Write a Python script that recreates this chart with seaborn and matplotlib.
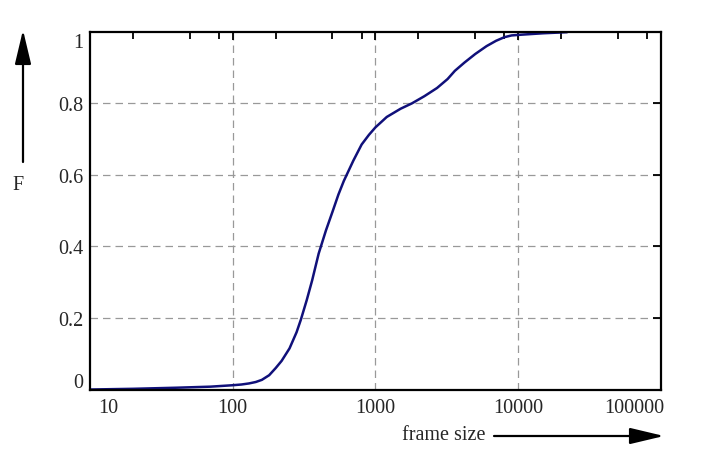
import numpy as np
import pandas as pd
import matplotlib
matplotlib.use("Agg")
import matplotlib.pyplot as plt
import matplotlib.ticker as mticker
from matplotlib.patches import FancyArrowPatch
from matplotlib.transforms import ScaledTranslation
import seaborn as sns

# cdf of frame sizes
frame_size = [10, 20, 40, 70, 100, 115, 130, 145, 160, 180, 200, 220, 250,
              280, 300, 330, 360, 400, 450, 500, 550, 600, 700, 800, 900,
              1000, 1200, 1500, 1800, 2200, 2700, 3200, 3600, 4200, 5000,
              6000, 7000, 8000, 9000, 10500, 15000, 22000]
cdf = [0.0, 0.002, 0.005, 0.008, 0.012, 0.014, 0.017, 0.021, 0.027, 0.040,
       0.060, 0.080, 0.115, 0.160, 0.195, 0.250, 0.305, 0.380, 0.445, 0.497,
       0.545, 0.583, 0.640, 0.685, 0.712, 0.733, 0.762, 0.785, 0.800, 0.820,
       0.843, 0.868, 0.891, 0.914, 0.938, 0.960, 0.975, 0.985, 0.990, 0.992,
       0.996, 0.999]

x_ticks = [10, 100, 1000, 10000, 100000]
x_labels = ["10", "100", "1000", "10000", "100000"]
y_ticks = [0, 0.2, 0.4, 0.6, 0.8, 1]
y_labels = ["0", "0.2", "0.4", "0.6", "0.8", "1"]

df = pd.DataFrame({"size": frame_size, "F": cdf})

sns.set_style("white")
plt.rcParams["font.family"] = ["Liberation Serif", "DejaVu Serif"]
plt.rcParams["font.size"] = 14.5

fig = plt.figure(figsize=(7.13, 4.56), dpi=100)
ax = fig.add_axes([0.1262, 0.1436, 0.927 - 0.1262, 0.928 - 0.1436])

sns.lineplot(data=df, x="size", y="F", ax=ax, color="#10107a", linewidth=1.8)

ax.set_xscale("log")
ax.set_xlim(10, 100000)
ax.set_ylim(0, 1)
ax.set_xticks(x_ticks)
ax.set_xticklabels(x_labels)
ax.xaxis.set_minor_locator(mticker.LogLocator(base=10, subs=[2, 5, 8]))
ax.xaxis.set_minor_formatter(mticker.NullFormatter())
ax.set_yticks(y_ticks)
ax.set_yticklabels(y_labels)
ax.set_xlabel("")
ax.set_ylabel("")

ax.tick_params(which="both", direction="in", top=True, right=True,
               width=1.3, labelsize=14.5, color="black")
ax.tick_params(which="major", length=6)
ax.tick_params(axis="y", pad=5)
ax.tick_params(axis="x", pad=6)
ax.tick_params(which="minor", length=5)
for s in ax.spines.values():
    s.set_linewidth(1.6)
    s.set_color("black")

for v in x_ticks[1:-1]:
    ax.axvline(v, color="#999999", lw=0.9, ls=(0, (6, 4)), zorder=0)
for v in y_ticks[1:-1]:
    ax.axhline(v, color="#999999", lw=0.9, ls=(0, (6, 4)), zorder=0)

# push the edge labels inward
xl = ax.get_xticklabels()
xl[0].set_transform(xl[0].get_transform() + ScaledTranslation(0.185, 0, fig.dpi_scale_trans))
xl[-1].set_transform(xl[-1].get_transform() + ScaledTranslation(-0.27, 0, fig.dpi_scale_trans))
yl = ax.get_yticklabels()
yl[0].set_transform(yl[0].get_transform() + ScaledTranslation(0, 0.095, fig.dpi_scale_trans))
yl[-1].set_transform(yl[-1].get_transform() + ScaledTranslation(0, -0.08, fig.dpi_scale_trans))

# axis names with arrows
style = "-|>,head_length=21,head_width=5"
fig.text(18 / 713, 1 - 186 / 456, "F", ha="center", va="center", fontsize=14.5)
fig.add_artist(FancyArrowPatch(
    (23 / 713, 1 - 163 / 456), (23 / 713, 1 - 31 / 456),
    transform=fig.transFigure, arrowstyle=style,
    color="black", lw=1.6, mutation_scale=1, shrinkA=0, shrinkB=0))
fig.text(486 / 713, 1 - 436 / 456, "frame size", ha="right", va="center", fontsize=14.5)
fig.add_artist(FancyArrowPatch(
    (494 / 713, 1 - 437 / 456), (664 / 713, 1 - 437 / 456),
    transform=fig.transFigure, arrowstyle=style,
    color="black", lw=1.6, mutation_scale=1, shrinkA=0, shrinkB=0))

fig.savefig("out.png", dpi=100)
